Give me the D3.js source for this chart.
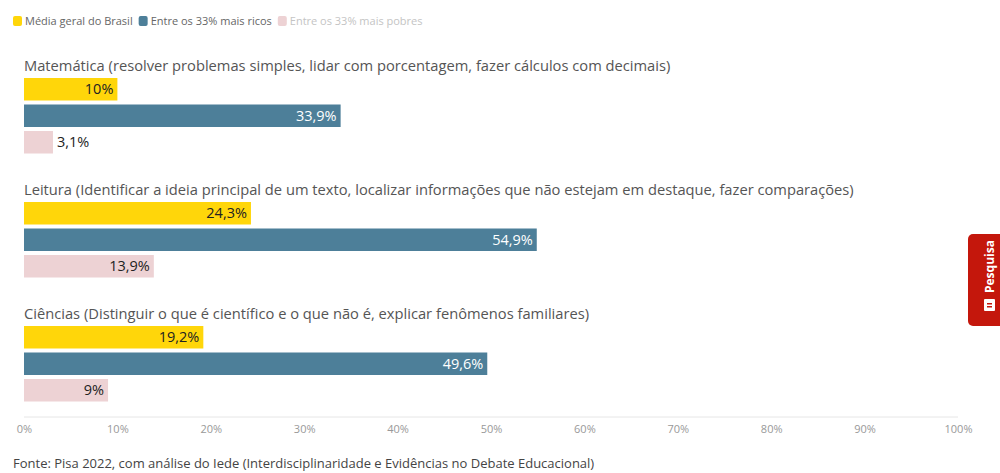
<!DOCTYPE html>
<html><head><meta charset="utf-8">
<script src="https://cdn.jsdelivr.net/npm/d3@7"></script>
<style>
html,body{margin:0;padding:0;background:#fff;}
svg{display:block;font-family:"Open Sans",sans-serif;}
</style></head><body>
<svg id="chart" width="1000" height="473"></svg>
<script>
const categories = [
  "Matemática (resolver problemas simples, lidar com porcentagem, fazer cálculos com decimais)",
  "Leitura (Identificar a ideia principal de um texto, localizar informações que não estejam em destaque, fazer comparações)",
  "Ciências (Distinguir o que é científico e o que não é, explicar fenômenos familiares)"
];
const seriesNames = ["Média geral do Brasil", "Entre os 33% mais ricos", "Entre os 33% mais pobres"];
const seriesColors = ["#FFD60A", "#4D7F99", "#EDD2D4"];
const mediaBrasil = [10, 24.3, 19.2];
const maisRicos = [33.9, 54.9, 49.6];
const maisPobres = [3.1, 13.9, 9];
const tickValues = [0,10,20,30,40,50,60,70,80,90,100];
const footer = "Fonte: Pisa 2022, com análise do Iede (Interdisciplinaridade e Evidências no Debate Educacional)";

const series = [mediaBrasil, maisRicos, maisPobres];
const svg = d3.select("#chart");
const fmt = v => String(v).replace(".", ",") + "%";

const x = d3.scaleLinear().domain([0,100]).range([24,958]);
const groupY = d3.scaleBand().domain(d3.range(categories.length)).range([54,426]);
const barY = d3.scaleBand().domain(d3.range(series.length)).range([24, 99.5]).paddingInner(0.151);

// legend
const leg = svg.append("g").attr("transform","translate(13,16)");
let lx = 0;
const legColors = ["#666","#666","#c4c4c4"];
seriesNames.forEach((n,i)=>{
  const g = leg.append("g").attr("transform",`translate(${lx},0)`);
  g.append("rect").attr("width",9).attr("height",10).attr("rx",2).attr("fill",seriesColors[i]);
  const t = g.append("text").attr("x",12).attr("y",9).attr("font-size",11).attr("fill",legColors[i]).text(n);
  lx += 12 + t.node().getComputedTextLength() + 6;
});

// groups
categories.forEach((c,gi)=>{
  const g = svg.append("g").attr("transform",`translate(0,${groupY(gi)})`);
  g.append("text").attr("x",24).attr("y",17).attr("font-size",14.7).attr("fill","#555").text(c);
  series.forEach((s,si)=>{
    const v = s[gi];
    const y0 = barY(si);
    const w = x(v)-x(0);
    g.append("rect").attr("x",x(0)).attr("y",y0).attr("width",w).attr("height",barY.bandwidth()).attr("fill",seriesColors[si]);
    const label = fmt(v);
    const t = g.append("text").attr("y",y0+barY.bandwidth()/2).attr("dy","0.35em").attr("font-size",14.5)
      .attr("fill", si===1 ? "#fff" : "#222").text(label);
    const tw = t.node().getComputedTextLength();
    if (tw + 8 < w) {
      t.attr("x", x(v)-4).attr("text-anchor","end");
    } else {
      t.attr("x", x(v)+4).attr("text-anchor","start").attr("fill","#222");
    }
  });
});

// axis
const axisY = 417;
svg.append("line").attr("x1",x(0)).attr("x2",x(100)).attr("y1",axisY).attr("y2",axisY).attr("stroke","#e6e6e6");
const ax = svg.append("g").attr("transform",`translate(0,${axisY})`)
  .call(d3.axisBottom(x).tickValues(tickValues).tickFormat(d=>d+"%").tickSize(0).tickPadding(8));
ax.select(".domain").remove();
ax.selectAll("text").attr("font-size",11).attr("fill","#999").attr("font-family","'Open Sans',sans-serif");

svg.append("text").attr("x",13).attr("y",468).attr("font-size",13).attr("fill","#444").text(footer);

// Pesquisa tab
const tab = svg.append("g");
tab.append("rect").attr("x",968).attr("y",234).attr("width",40).attr("height",92).attr("rx",5).attr("fill","#C4170C");
tab.append("text").attr("transform","translate(990,293) rotate(-90)").attr("text-anchor","start")
  .attr("font-size",12).attr("font-weight","bold").attr("fill","#fff").attr("dy","0.35em").text("Pesquisa");
tab.append("rect").attr("x",984).attr("y",299).attr("width",11).attr("height",12).attr("rx",1).attr("fill","#fff");
tab.append("rect").attr("x",987).attr("y",303).attr("width",5).attr("height",1.5).attr("fill","#C4170C");
tab.append("rect").attr("x",987).attr("y",306).attr("width",5).attr("height",1.5).attr("fill","#C4170C");
</script>
</body></html>
